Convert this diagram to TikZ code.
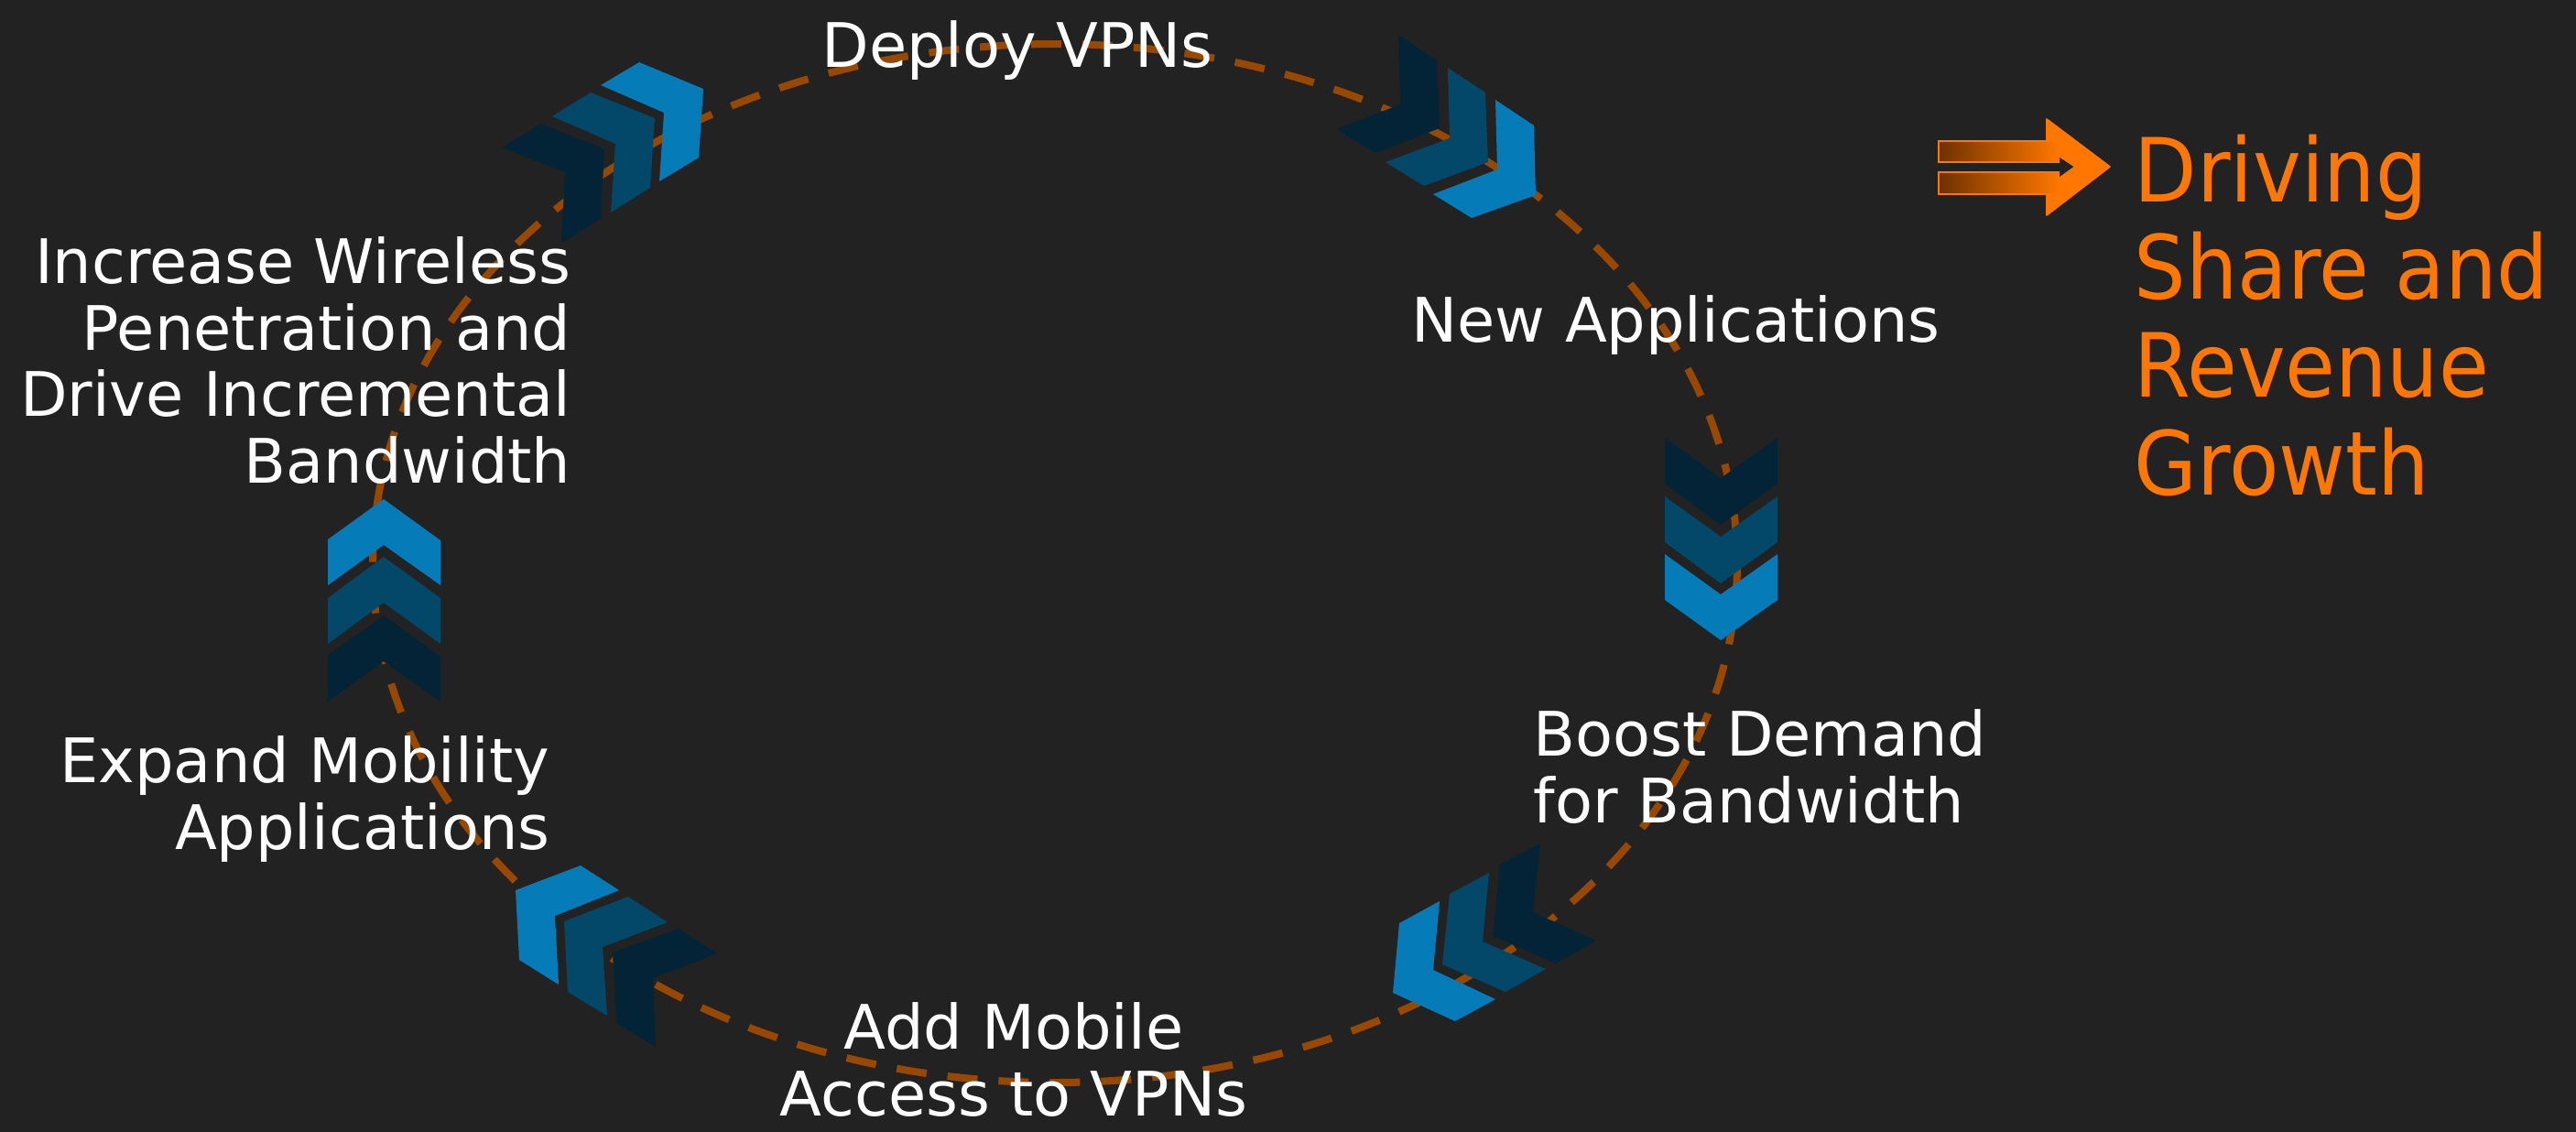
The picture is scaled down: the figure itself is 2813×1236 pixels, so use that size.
\documentclass[tikz,border=0pt]{standalone}
\usepackage{fontspec}
\setmainfont{DejaVu Sans}
\newfontfamily\goalfont{DejaVu Sans}[FakeStretch=0.92]
\definecolor{bgc}{HTML}{222222}
\definecolor{ringc}{HTML}{994800}
\definecolor{chevlight}{HTML}{057BB7}
\definecolor{chevmid}{HTML}{034868}
\definecolor{chevdark}{HTML}{022436}
\definecolor{accent}{HTML}{FF7700}
\definecolor{shaftdark}{HTML}{6E3200}
\tikzset{
  ring/.style={draw=ringc, line width=2.4pt, dash pattern=on 9.9pt off 6.9pt},
  chevlt/.style={fill=chevlight},
  chevmd/.style={fill=chevmid},
  chevdk/.style={fill=chevdark},
  lbl/.style={inner sep=0pt, text=white, font=\fontsize{20.1pt}{21.8pt}\selectfont},
  goal/.style={inner sep=0pt, text=accent, font=\goalfont\fontsize{29pt}{32pt}\selectfont, align=left},
  shaft/.style={left color=shaftdark, right color=accent, draw=accent, line width=0.5pt},
  head/.style={fill=accent, draw=accent, line width=0.5pt, line join=round}
}
\begin{document}
\begin{tikzpicture}[x=0.3pt, y=-0.3pt]
% canvas
\fill[bgc] (0,0) rectangle (2813,1236);
\useasboundingbox (0,0) rectangle (2813,1236);

% dashed cycle
\draw[ring] (1152,615) ellipse [x radius=745, y radius=567];

% chevrons: top left, pointing up-right
\fill[chevdk] (548,161) -- (591,135) -- (660,163) -- (656,239) -- (613,265) -- (617,188) -- cycle;
\fill[chevmd] (603,127) -- (645,101) -- (715,129) -- (710,205) -- (667,232) -- (672,157) -- cycle;
\fill[chevlt] (656,93) -- (698,68) -- (768,97) -- (763,172) -- (720,198) -- (725,123) -- cycle;

% top right, pointing down-right
\fill[chevdk] (1527,38) -- (1569,66) -- (1572,140) -- (1502,167) -- (1459,141) -- (1529,114) -- cycle;
\fill[chevmd] (1581,74) -- (1622,101) -- (1625,177) -- (1555,203) -- (1513,177) -- (1583,151) -- cycle;
\fill[chevlt] (1633,109) -- (1675,137) -- (1677,213) -- (1607,238) -- (1565,212) -- (1635,185) -- cycle;

% right, pointing down
\fill[chevdk] (1818,478) -- (1879,522) -- (1941,478) -- (1941,528) -- (1879,573) -- (1818,528) -- cycle;
\fill[chevmd] (1818,542) -- (1879,586) -- (1941,542) -- (1941,592) -- (1879,637) -- (1818,592) -- cycle;
\fill[chevlt] (1818,605) -- (1879,649) -- (1941,605) -- (1941,655) -- (1879,699) -- (1818,655) -- cycle;

% bottom right, pointing down-left
\fill[chevdk] (1638,944) -- (1682,921) -- (1674,996) -- (1743,1027) -- (1699,1052) -- (1630,1022) -- cycle;
\fill[chevmd] (1583,976) -- (1626,953) -- (1619,1028) -- (1688,1058) -- (1644,1083) -- (1575,1053) -- cycle;
\fill[chevlt] (1528,1008) -- (1572,984) -- (1565,1059) -- (1633,1091) -- (1589,1115) -- (1521,1084) -- cycle;

% bottom left, pointing up-left
\fill[chevdk] (669,1040) -- (741,1014) -- (783,1041) -- (713,1068) -- (716,1143) -- (673,1117) -- cycle;
\fill[chevmd] (616,1006) -- (686,979) -- (729,1007) -- (658,1034) -- (663,1109) -- (620,1083) -- cycle;
\fill[chevlt] (563,972) -- (634,945) -- (676,972) -- (606,1000) -- (610,1075) -- (567,1048) -- cycle;

% left, pointing up
\fill[chevdk] (419,672) -- (481,717) -- (481,766) -- (419,722) -- (358,766) -- (358,715) -- cycle;
\fill[chevmd] (419,608) -- (481,653) -- (481,703) -- (419,658) -- (358,703) -- (358,653) -- cycle;
\fill[chevlt] (419,545) -- (481,590) -- (481,639) -- (419,595) -- (358,639) -- (358,589) -- cycle;

% stage labels
\node[lbl, anchor=north] (vpn) at (1111,22) {Deploy VPNs};
\node[lbl, anchor=north] (apps) at (1830,322) {New Applications};
\node[lbl, anchor=north west, align=left] (demand) at (1674,774) {Boost Demand\\for Bandwidth};
\node[lbl, anchor=north, align=center] (mobile) at (1107,1094) {Add Mobile\\Access to VPNs};
\node[lbl, anchor=north east, align=right] (expand) at (601,803) {Expand Mobility\\Applications};
\node[lbl, anchor=north east, align=right] (wireless) at (624,258) {Increase Wireless\\Penetration and\\Drive Incremental\\Bandwidth};

% outcome arrow and text
\shade[shaft] (2117,154) rectangle (2248,177);
\shade[shaft] (2117,188) rectangle (2248,212);
\filldraw[head] (2235,130) -- (2304,182) -- (2235,235) -- (2235,212) -- (2248,212) -- (2248,195)
  -- (2266,182) -- (2248,170) -- (2248,154) -- (2235,154) -- cycle;
\node[goal, anchor=north west] (growth) at (2330,146) {Driving\\Share and\\Revenue\\Growth};
\end{tikzpicture}
\end{document}
